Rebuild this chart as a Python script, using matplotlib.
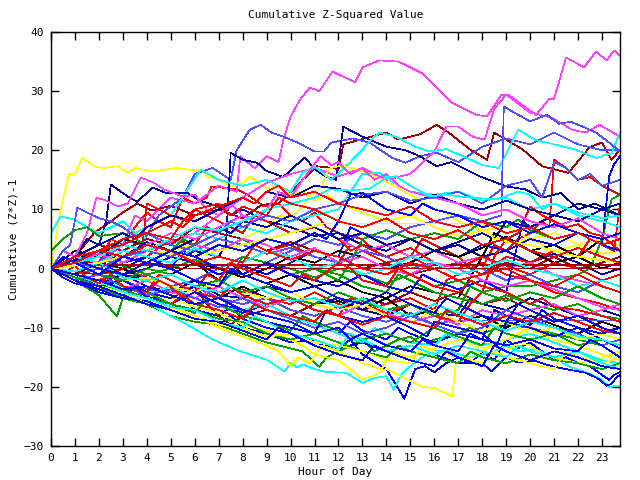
import matplotlib
matplotlib.use("Agg")
import matplotlib.pyplot as plt

# each series: (hours, cumulative value) at its corners
red = [
    ([0, 1, 2, 2.5, 3, 3.5, 4, 4.5, 5, 5.5, 6, 6.5, 6.7, 7.8, 8.3, 8.9, 9.5, 10, 10.5, 11, 11.5, 12, 13, 13.5, 14, 15, 15.5, 16, 17, 17.5, 18, 19, 20, 21, 22, 23, 23.75],
     [0, 2, 1, 5, 4, 7, 9.5, 8, 7, 12, 11, 12, 13.9, 13.4, 12.2, 10.5, 11, 9, 8, 9.5, 7, 6, 5, 3, 4, 2, 5, 4, 2, 0, 1, -1, -2, -4, -5, -6, -7]),
    ([0, 1, 2, 3, 4, 5, 6, 7, 8, 9, 10, 11, 12, 13, 14, 15, 16, 16.5, 17, 18, 18.5, 19, 19.5, 20, 20.5, 20.8, 21, 21.5, 22, 22.5, 23, 23.75],
     [0, -1, -2, 0, -1.5, -3, -2, -4, -3.5, -5, -6, -4, -6, -7, -6, -5, -7, -2, -1, 0, 4, 3, 5, 6, 8, 7, 18.4, 17, 15, 15.5, 14, 12.5]),
    ([0, 1, 2, 3, 4, 5, 6, 6.5, 7, 8, 9, 10, 11, 12, 12.5, 13, 14, 15, 16, 17, 18, 19, 20, 21, 22, 22.5, 23, 23.5, 23.75],
     [0, 1.5, 0.5, 3, 2, 5, 4, 7, 6, 5, 3, 4, 2, 1, 4, 3, 1, 2, 0, 1, -1, 2, 1, 3, 2, 5, 4, 3, 11]),
    ([0, 0.5, 1, 2, 3, 3.8, 4, 4.5, 5, 5.7, 6, 6.5, 7, 7.5, 8, 8.5, 9, 10, 11, 12, 12.5, 13, 14, 15, 16, 17, 18, 19, 20, 21, 22, 23, 23.75],
     [0, 2, 1, 3, 2, 3, 11, 10, 9, 8, 10, 9, 8, 7, 6, 9, 8, 6, 7, 5, 3, 4, 2, 3.5, 1, 0, 2, 0.5, -1, 1, 0, -2, -1]),
    ([0, 1, 2, 3, 4, 4.5, 5, 6, 7, 7.5, 8, 9, 10, 11, 12, 12.5, 13, 14, 15, 16, 17, 17.5, 18, 18.5, 19, 19.5, 20, 20.5, 21, 21.5, 22, 22.5, 23, 23.75],
     [0, -2, -1, -3, -4, -1, -2, -4, -5, -3, -4.5, -6, -5, -7, -8, -5, -6, -7.5, -6, -8, -9, -6, -4, 2, 5, 6, 10.5, 9, 8, 7, 7.5, 6, 5.5, 3]),
    ([0, 0.5, 1, 1.5, 2, 2.5, 3, 4, 4.5, 5, 5.5, 6, 6.5, 7, 7.5, 8, 9, 10, 10.5, 11, 12, 12.5, 13, 14, 14.5, 15, 16, 17, 17.5, 18, 19, 20, 20.5, 21, 22, 23, 23.75],
     [0, -1, 0.5, -1.5, -2.5, -1, -3, -4, -2, -3, -5, -4, -1, -2, 1, 0, -1.5, -3, -1, -2, 1, 0, -2, -3, 0, -1, -3, -4, -2, -3, -4, -6, -5, -6.5, -7, -8, -9]),
    ([0, 1, 2, 3, 4, 5, 5.5, 6, 7, 8, 8.5, 9, 10, 11, 11.5, 12, 13, 14, 15, 16, 16.5, 17, 18, 19, 20, 21, 22, 23, 23.75],
     [0, -1.5, -3, -4, -5, -6, -4.5, -6, -7, -8.5, -6, -7, -8, -9, -7, -8, -9.5, -8, -9, -10, -7, -8, -9.5, -8, -9, -7.5, -9, -10.5, -11]),
    ([0, 1, 2, 3, 4, 5, 6, 7, 8, 8.5, 9, 10, 11, 12, 13, 14, 15, 16, 17, 18, 19, 20, 21, 22, 23, 23.75],
     [0, 1, 3, 2, 4, 3, 1, 2, 1, 4, 3, 1.5, 3, 2, 0, -1, 1, 0, -2, -1, 0, -2, -3, -1, -3, -4]),
    ([0, 1, 2, 3, 4, 5, 5.5, 6, 7, 7.5, 8, 9, 9.5, 10, 11, 12, 13, 14, 15, 16, 17, 18, 19, 20, 21, 22, 23, 23.75],
     [0, 2, 3, 5, 6, 5, 8, 10, 11, 9, 10.5, 9, 12, 11, 10, 8, 7, 8.5, 6, 5, 6.5, 4, 5, 3, 2, 3.5, 2, 1]),
    ([0, 1, 2, 3, 4, 5, 5.5, 6, 7, 8, 8.5, 9, 9.5, 10, 11, 12, 13, 14, 15, 16, 17, 18, 19, 20, 21, 22, 23, 23.75],
     [0, 1, 3, 4, 6, 8, 7, 9, 10.5, 12, 11, 13, 14, 12, 13, 11, 10, 9, 10.5, 8, 7, 8, 6, 7, 5, 6, 4, 5]),
]

green = [
    ([0, 1, 2, 2.75, 3, 4, 5, 6, 7, 8, 9, 10, 10.5, 11.2, 11.5, 12, 12.5, 13, 13.5, 14, 14.5, 15, 15.5, 16, 17, 17.5, 18, 19, 20, 21, 22, 23, 23.75],
     [0, -2, -4.5, -8.1, -5, -6, -8, -9, -9.5, -11, -12.5, -13.5, -14, -16.6, -15, -14, -13, -12, -14, -13, -12, -11.5, -13, -12, -11, -10, -11, -9.5, -10, -11, -12, -13, -12]),
    ([0, 1, 2, 3, 4, 5, 6, 7, 8, 9, 10, 11, 12, 13, 14, 15, 16, 17, 18, 19, 20, 21, 22, 22.5, 23, 23.4, 23.75],
     [0, 1, 0, 2, 1, 0, 1.5, 0, -1, 1, 0, -1.5, 0, -1, -2.5, -1, -3, -2, -4, -3, -3, -2, -1, 0, 5, 11.7, 12.5]),
    ([0, 1, 2, 2.5, 3, 4, 5, 6, 7, 7.5, 8, 9, 10, 11, 12, 12.5, 13, 14, 15, 16, 17, 18, 19, 19.5, 20, 21, 22, 23, 23.75],
     [0, 2, 3, 1, 0.5, -1, 0, -2, -3, -1, 2, 1, -1, 0, -2, 1, 5, 6.5, 5, 6, 5, 8, 7, 8.3, 6.5, 5, 6, 4, 3]),
    ([0, 0.5, 1, 1.5, 2, 3, 4, 5, 5.5, 6, 7, 8, 9, 10, 11, 12, 13, 14, 14.5, 15, 16, 17, 18, 19, 20, 21, 22, 23, 23.75],
     [3, 5, 6.5, 7, 5.5, 6, 4, 3, 5, 4, 3, 5, 3, 2, 0, -1, -3, -4, -1, -2, -4, -5, -6, -4.5, -6, -7, -6, -8, -8.5]),
    ([0, 1, 2, 3, 4, 5, 6, 6.5, 7, 8, 9, 10, 10.5, 11, 12, 13, 14, 15, 16, 17, 18, 18.5, 19, 20, 21, 22, 23, 23.75],
     [0, -2, -3, -5, -4, -6, -7.5, -5, -6, -8, -9, -10.5, -8, -9, -10.5, -12, -11, -12.5, -10, -11.5, -13, -10, -11, -12, -11, -13, -12, -13]),
    ([0, 1, 2, 3, 4, 5, 6, 7, 8, 9, 10, 11, 12, 13, 14, 15, 16, 17, 17.5, 18, 19, 20, 21, 22, 23, 23.75],
     [0, 1, -1, -2, 0, -1, -3, -2, -4, -3, -5, -6, -4, -5.5, -7, -6, -8, -7, -3, -4, -5.5, -4, -5, -3, -5, -6]),
    ([0, 1, 2, 3, 4, 5, 6, 7, 8, 9, 10, 11, 12, 13, 14, 14.5, 15, 16, 17, 17.5, 18, 19, 20, 21, 22, 23, 23.75],
     [0, -1.5, -3, -3.5, -5, -6, -7, -8.5, -9, -11, -12, -11, -12.5, -14, -15, -13, -14, -15, -16, -14, -15, -16, -14.5, -15.5, -16, -17, -16]),
]

blue = [
    ([0, 0.5, 1, 2, 3, 3.5, 4, 5, 5.5, 6, 7, 7.5, 8, 9, 10, 11, 12, 12.5, 13, 14, 14.75, 15.2, 15.6, 16, 16.5, 17, 17.5, 18, 18.5, 19, 19.5, 20, 20.5, 21, 21.5, 22, 22.5, 23, 23.3, 23.5, 23.75],
     [0, -1.5, -2.5, -3.5, -4.5, -3, -4.5, -6, -5, -7, -8, -6.5, -8.5, -10, -11, -12.5, -13.5, -12, -14.5, -17, -22, -17, -16.5, -17.5, -16, -15, -16, -14, -15.5, -12, -13.5, -12.5, -14, -15.5, -15, -16, -16.5, -18, -18.8, -18, -17.5]),
    ([0, 1, 2, 3, 4, 5, 6, 7, 7.5, 8, 9, 10, 11, 12, 13, 14, 15, 16, 17, 18, 18.4, 19, 19.5, 20.2, 20.9, 21.5, 22.3, 22.8, 23.2, 23.4, 23.6, 23.75],
     [0, -2, -3.5, -5, -5.5, -7, -8, -9.5, -8, -10, -11, -12.5, -12, -13.5, -12.5, -14, -13, -14.5, -16, -16, -17.4, -15, -15.9, -15.6, -16.5, -17, -17.6, -18.5, -19.8, -19.5, -18.4, -18]),
    ([0, 1, 2, 3, 4, 5, 6, 7, 8, 9, 10, 11, 12, 12.5, 13, 14, 15, 16, 17, 18, 19, 20, 21, 22, 22.5, 23, 23.3, 23.5, 23.75],
     [0, 2, 1, -1, 0, 2, 1, -1, 0.5, -1, 1, 3, 2, 7, 6, 4, 5, 3, 2, 4, 3, 5, 4, 6, 5, 4, 15.6, 17.6, 19]),
    ([0, 1, 2, 3, 4, 5, 6, 6.5, 7, 8, 9, 10, 11, 12, 12.5, 13, 14, 14.5, 15, 16, 17, 18, 18.5, 19, 20, 20.5, 21, 22, 23, 23.75],
     [0, -1, -3, -2, -4, -5, -3, -5, -6, -7.5, -6, -8, -9.5, -11, -9, -10.5, -12, -10, -11, -12.5, -11, -12, -7, -8, -9.5, -7, -8.5, -10, -12, -13.5]),
    ([0, 0.5, 1, 2, 3, 4, 5, 5.5, 6, 7, 8, 9, 10, 11, 12, 13, 14, 15, 15.5, 16, 17, 18, 19, 19.7, 20, 21, 22, 23, 23.75],
     [0, 2, 1, 3, 1, 2, 0, 3, 2, 0, -1, 1, -1, -2, -3, -1, -3, -4, -1, -2, -3.5, -2, -4, 8, 7, 5, 6, 4, 3]),
    ([0, 1, 2, 3, 3.5, 4, 5, 6, 7, 8, 9, 10, 11, 11.5, 12, 13, 14, 15, 15.7, 16, 17, 18, 18.6, 19, 20, 21, 22, 23, 23.75],
     [0, -2, -4, -5, -3, -5, -6, -4, -6, -7, -9, -10, -11, -7, -8, -9, -8, -10, -11.5, -9, -10, -11, -13, -9, -10, -11.5, -10, -11, -10]),
    ([0, 1, 2, 3, 4, 5, 6, 7, 7.5, 8, 9, 10, 11, 12, 13, 14, 15, 16, 16.5, 17, 18, 19, 19.5, 20, 21, 22, 23, 23.75],
     [0, 1.5, 0, -1, 1, 0, -2, -3, 0, -1, -2.5, -4, -3, -5, -6, -4, -6, -7.5, -5, -6, -8, -9, -6, -7, -9, -8, -10, -11]),
    ([0, 1, 2, 3, 4, 5, 6, 7, 8, 9, 10, 11, 11.5, 12, 12.5, 13, 14, 15, 15.5, 16, 17, 18, 19, 20, 21, 22, 23, 23.75],
     [0, 1, -1, 2, 1, 3, 2, 4, 3, 5, 4, 6, 5, 8, 12.5, 12.8, 10, 9, 11, 10, 9, 7, 8, 6, 7.5, 6, 5, 6]),
    ([0, 1, 2, 3, 4, 5, 6, 7, 8, 9, 10, 11, 12, 12.5, 13, 14, 15, 15.5, 16, 17, 17.5, 18, 19, 20, 21, 22, 22.5, 23, 23.75],
     [0, -1, -2, -3.5, -3, -4.5, -6, -5, -7, -8, -9, -11, -10, -12, -11, -13, -14, -12, -13, -14, -11, -12, -13, -12, -13.5, -14, -12, -13, -15]),
    ([0, 1, 2, 3, 4, 5, 6, 7, 8, 9, 9.5, 10, 11, 12, 13, 13.5, 14, 15, 16, 16.5, 17, 18, 18.5, 19, 20, 21, 22, 23, 23.75],
     [0, -2, -3, -4.5, -6, -7, -8.5, -9, -10.5, -12, -10, -11, -13, -14.5, -15.5, -13, -14, -15.5, -16.5, -14, -15, -16.5, -13, -14, -15.5, -14, -15, -16.5, -17]),
]

magenta = [
    ([0, 1, 2, 3, 3.5, 4, 5, 6, 7, 7.75, 7.9, 8.5, 9, 9.5, 9.7, 10, 10.4, 10.8, 11.2, 11.75, 12.7, 13, 13.7, 14.5, 15, 15.5, 16.1, 16.75, 17.75, 18.2, 18.8, 19.1, 19.75, 20.25, 20.8, 21, 21.5, 22.25, 22.75, 23.2, 23.5, 23.75],
     [0, 2, 1, 4, 9, 8, 12, 11, 14, 13, 19, 17, 19, 18, 21.8, 25.7, 28.6, 30.6, 30, 33.3, 31.5, 34, 35.2, 35, 34, 33, 30.6, 28, 26, 25.7, 29.4, 29.4, 27.4, 26, 28.7, 28.7, 35.7, 34, 36.7, 35.2, 36.9, 36]),
    ([0, 2, 4, 6, 8, 9, 10, 11, 12, 13, 14, 15, 16, 16.5, 17, 17.6, 18.1, 18.5, 19, 20, 20.9, 21.75, 22.3, 22.9, 23.75],
     [0, -1, 3, 6, 12, 14.5, 16, 17, 15.6, 17, 15, 16, 19.8, 24, 24, 22.3, 21.8, 27, 29.4, 26.4, 25.5, 23.5, 23, 24.3, 22.3]),
    ([0, 0.5, 1, 1.5, 1.9, 2.3, 2.8, 3.2, 3.75, 4.3, 4.7, 5.5, 6, 6.5, 7, 7.5, 8, 9, 10, 11, 12, 13, 14, 15, 16, 17, 18, 19, 20, 21, 22, 23, 23.75],
     [0, 3, 2, 6, 12, 11.5, 10.5, 11, 15.4, 14.5, 13.4, 12.2, 12.5, 10, 9, 11, 9, 8, 6, 7, 5, 3, 4, 2, 3, 1, 2, 0, 1, -1, -2, -3, -4]),
    ([0, 1, 2, 3, 4, 5, 6, 7, 8, 9, 10, 11, 12, 13, 14, 15, 16, 17, 18, 19, 20, 21, 22, 23, 23.75],
     [0, -1.5, -2, -3.5, -2, -4, -5, -3, -5, -6.5, -5, -7, -8, -6, -7.5, -9, -8, -9.5, -7, -8, -7, -6, -8, -7, -6]),
    ([0, 1, 2, 3, 4, 5, 6, 7, 8, 9, 10, 11, 12, 13, 14, 15, 16, 17, 18, 19, 20, 21, 22, 23, 23.75],
     [0, 1, 2.5, 1, 3, 2, 4, 3, 5, 4, 2, 3.5, 1, 2, 0, -1, 1, 0, -2, -3, -2, -3.5, -5, -6.5, -7]),
    ([0, 1, 2, 3, 4, 5, 6, 7, 8, 8.5, 9, 9.5, 10, 10.5, 11.25, 11.7, 12, 12.5, 13, 13.5, 14, 14.5, 15, 16, 17, 18, 19, 20, 21, 22, 23, 23.75],
     [0, 1, 3, 2, 4, 6, 5, 7, 9, 8, 10, 13, 12, 15, 19, 17.5, 18, 16, 17, 15, 16, 14, 13, 12, 11, 9, 10, 8, 7, 8.5, 6, 5]),
]

cyan = [
    ([0, 1, 2, 3, 4, 4.7, 5.7, 6.75, 7.9, 9, 9.75, 10, 10.25, 10.5, 11, 11.5, 12.3, 13, 13.5, 14, 14.3, 14.6, 15, 15.5, 16, 16.5, 17, 17.5, 18, 18.5, 19, 19.5, 20.25, 21, 21.6, 22.3, 23, 23.3, 23.75],
     [0, -1.5, -3, -4.5, -5.5, -7.4, -9.5, -12, -14, -15.4, -17.4, -15.9, -16.7, -16.2, -17, -17.5, -17.6, -19.3, -18.5, -18.2, -20.5, -18, -16.5, -15, -14, -13.8, -14.5, -15, -14.5, -14, -13, -14, -13.7, -15, -16.5, -17.5, -18.8, -20, -19.8]),
    ([0, 1, 2, 3, 4, 5, 5.8, 6.25, 7, 8, 9, 10, 10.5, 11, 11.7, 12.5, 13.3, 13.7, 14.4, 15.2, 15.8, 16.5, 17.2, 18, 18.7, 19.5, 20.2, 21, 21.9, 22.75, 23.4, 23.75],
     [0, 2, 3, 5, 7, 9, 13.9, 16.7, 15, 14, 15, 13, 16.2, 17.3, 15, 18, 21.5, 23, 22.3, 20.6, 19.8, 20.2, 19, 17.5, 17, 23.5, 21.8, 21, 20.1, 18.7, 19.5, 23]),
    ([0, 0.4, 1, 1.5, 2, 3, 3.5, 4, 5, 6, 7, 8, 9, 10, 11, 12, 12.5, 13, 13.7, 14.5, 15, 16, 17, 18, 19, 20, 21, 22, 23, 23.75],
     [6, 8.8, 8.3, 7, 6, 8, 6, 5, 4, 6, 5, 7, 6, 8, 9, 10, 13, 16, 16.2, 14, 13, 12.5, 13, 11.5, 12, 10, 11, 9, 8, 7]),
    ([0, 1, 2, 3, 4, 5, 6, 7, 8, 9, 10, 11, 12, 13, 13.5, 14, 15, 16, 16.5, 17, 18, 19, 20, 21, 22, 23, 23.75],
     [0, -1, -2.5, -3, -4.5, -3, -5, -6.5, -7, -6, -8, -9.5, -11, -12.5, -10, -11, -12.5, -13, -11, -12, -13, -12, -11, -12.5, -14, -15.5, -16]),
    ([0, 1, 2, 3, 4, 5, 6, 7, 8, 9, 10, 11, 12, 13, 14, 15, 16, 17, 18, 19, 20, 21, 22, 23, 23.75],
     [0, 2, 1, 3, 2, 1, 3.5, 2, 1, 3, 2, 0, 1, -1, 0, 2, 1, -1, 0, 1.5, 0, -1, -3, -2, -3]),
    ([0, 1, 2, 3, 4, 5, 6, 7, 8, 9, 10, 11, 12, 13, 14, 15, 16, 17, 18, 19, 20, 21, 22, 23, 23.75],
     [0, -0.5, 1, -1.5, -2, -1, -3, -4, -2, -4, -5.5, -5, -6.5, -5, -7, -8, -6, -7.5, -9, -10.5, -9, -10, -11.5, -12, -13]),
    ([0, 1, 2, 3, 4, 5, 6, 7, 8, 9, 10, 11, 11.6, 12.5, 13.3, 14, 14.4, 15, 15.8, 16.5, 17.5, 18.6, 19.5, 20, 20.5, 21, 22, 23, 23.75],
     [0, 1, 2, 4, 3, 5, 7, 6.5, 8, 10, 11, 12, 13.4, 13.2, 13.5, 15.4, 15.6, 14, 12.2, 12.5, 12, 11.7, 13, 12.5, 10, 11, 9.5, 8.5, 9]),
    ([0, 1, 2, 3, 4, 5, 6, 7, 8, 8.5, 9, 10, 11, 12, 12.5, 13, 14, 15, 16, 17, 18, 19, 19.5, 20, 21, 22, 23, 23.75],
     [0, -1, -2, -4, -5, -6.5, -7, -9, -10, -8, -9, -11, -12, -13.5, -11, -12, -14, -13, -14.5, -13, -14, -15, -13, -14, -15, -14, -16, -17]),
]

darkred = [
    ([0, 1, 1.8, 2.5, 3, 3.6, 4.2, 5, 6, 7, 8, 8.8, 9.5, 10, 10.5, 11.1, 11.8, 12, 12.2, 12.9, 14, 14.5, 15.4, 16.1, 16.6, 17.5, 18.2, 18.5, 19, 19.7, 20.5, 21.6, 22.5, 23, 23.4, 23.75],
     [0, 2, 6, 8, 9.5, 11, 9.8, 10.6, 9, 10, 8.5, 10.8, 11, 12.8, 15, 17.3, 17, 16.7, 21, 21.8, 23, 21.8, 22.7, 24.3, 23, 20.1, 18.4, 23, 21.8, 20.1, 17.3, 16.2, 20.6, 21.3, 18.4, 20.1]),
    ([0, 1, 2, 3, 4, 5, 6, 6.5, 7, 7.5, 8, 9, 10, 11, 12, 13, 14, 15, 16, 17, 18, 19, 20, 21, 22, 23, 23.75],
     [0, 1, 0, -1, -2, -1, -3, -6, -8, -9.5, -8, -7, -8, -6, -7, -5, -6, -4, -5.5, -4, -6, -5, -7, -6, -8, -9, -10]),
    ([0, 1, 2, 3, 4, 5, 6, 7, 8, 9, 10, 11, 12, 13, 14, 15, 16, 17, 18, 19, 20, 21, 22, 23, 23.75],
     [0, 2, 4, 3, 5, 4, 7, 6, 5, 3, 4.5, 3, 2, 0, 1, -1, 0, -2, -1, 1, 0, 2, 0, 1, 2]),
    ([0, 1, 2.2, 23.75],
     [0, 1.5, 0.6, 0.6]),
    ([0, 2, 4, 5.4, 23.75],
     [0, -1, 1, 0, 0]),
]

yellow = [
    ([0, 0.4, 0.75, 1, 1.3, 1.8, 2.2, 2.8, 3.2, 3.5, 4.3, 4.7, 5.2, 5.8, 6.25, 6.5, 7, 7.5, 8, 8.3, 9, 9.5, 10, 10.5, 11, 11.5, 12, 13, 14, 15, 16, 17, 18, 19, 20, 21, 22, 23, 23.75],
     [0, 10, 16, 16, 18.7, 17.3, 17, 17.3, 16.2, 17, 16.4, 16.7, 17, 16.7, 16.7, 15.6, 15, 13.9, 14.5, 15.6, 13.5, 14, 12.5, 13, 11.5, 12.5, 11, 9.5, 8, 9, 7, 5.5, 6.5, 4.5, 5, 3, 4, 2.5, 3]),
    ([0, 1, 2, 3, 4, 5, 6, 7, 8, 9, 9.5, 10, 10.5, 10.8, 11.3, 11.6, 12, 12.6, 13.3, 14, 15.1, 15.8, 16.5, 17, 18, 19, 20, 21, 22, 23, 23.75],
     [0, -1, 1, 2, 1, 3, 4, 6, 5, 7, 9, 8.5, 10.5, 12.2, 14, 16.9, 17.3, 17, 16, 14.7, 12.2, 10.5, 9.5, 8, 6.5, 7, 5, 6, 4, 5, 4]),
    ([0, 1, 2, 3, 4, 5, 6, 7, 8, 9, 10, 10.5, 11, 12, 12.5, 13, 13.5, 14, 14.5, 15, 15.5, 16, 16.75, 16.9, 17.5, 18, 18.5, 19, 19.5, 20, 20.5, 21, 22, 23, 23.75],
     [0, -1, -2.5, -3, -4.5, -5, -6.5, -7.5, -9.5, -10.5, -12, -13, -14.5, -15.5, -17, -18.8, -18, -17, -18, -19, -20, -20.2, -21.6, -16, -15, -14, -13, -14, -12.5, -13, -14.5, -15, -16, -15, -14]),
    ([0, 2, 4, 6, 7, 8, 9, 9.5, 10, 10.3, 10.8, 11.3, 12, 13, 13.8, 14.2, 15, 16, 17, 18, 19, 20, 21, 22, 23, 23.75],
     [0, -2, -5, -8, -10, -11.5, -13, -14, -16.5, -15, -16, -13, -14, -16, -17, -14, -15, -13.5, -12, -13.5, -12, -10, -12, -13, -14.5, -15.5]),
    ([0, 1, 2, 3, 4, 5, 6, 7, 8, 9, 10, 11, 12, 13, 14, 15, 16, 17, 18, 19, 20, 21, 22, 23, 23.75],
     [0, 1, -1, -2, -1.5, -3, -4, -2, -4, -5, -4, -6, -7, -6, -8, -9, -7, -9, -10.5, -9, -11, -10, -12, -11, -12]),
    ([0, 2, 4, 6, 8, 10, 11.3, 18, 18.5, 20, 22, 23.75],
     [0, 1, 3, 2, 4, 6, 7.6, 7.6, 5, 4, 2, 1]),
    ([0, 1, 2, 3, 4, 5, 6, 7, 8, 9, 10, 11, 12, 13, 14, 15, 15.5, 16, 17, 18, 18.5, 19, 20, 21, 21.5, 22, 23, 23.75],
     [0, -2, -3, -4, -6, -7, -8, -9.5, -10, -11.5, -11, -12.5, -13, -14, -15.5, -16, -13, -14, -15, -16, -14, -15, -16, -17, -14, -15, -16, -15]),
]

slate = [
    ([0, 1, 2, 3, 3.75, 4.5, 5.5, 6, 6.75, 7.5, 7.75, 8.3, 8.75, 9.2, 9.7, 10.3, 11, 11.4, 11.7, 12.6, 13.3, 14.25, 14.8, 15.4, 16.1, 17, 18, 19, 20, 21, 22, 23, 23.75],
     [0, -1, 1, 5, 4, 9, 12, 16, 17, 15, 20, 23.5, 24.3, 23, 22.3, 21.3, 19.8, 19.8, 21.3, 22, 21.3, 18.7, 17.9, 19, 19.6, 18, 20.6, 22, 21, 23, 21, 20, 20]),
    ([0, 1, 2, 3, 4, 5, 6, 7, 8, 9, 10, 11, 12, 13, 14, 15, 16, 17, 18, 18.8, 18.9, 19.5, 20, 20.7, 21.2, 21.7, 22.2, 22.75, 23.3, 23.75],
     [0, -1, 0, -2, -1, -3, -2, 0, 2, 1, 3, 5, 4, 6, 5, 7, 8, 9, 8, 9, 27.4, 26, 24.9, 26, 24.5, 24.8, 24, 23, 21.3, 19.8]),
    ([0, 1, 2, 3, 4, 5, 6, 7, 8, 9, 10, 11, 12, 13, 14, 15, 16, 16.75, 23.75],
     [0, -1, -2.5, -2, -3.5, -4, -3, -5, -6, -5, -7, -8, -6.5, -8, -9, -7.5, -9.5, -8.8, -8.8]),
    ([0, 0.5, 0.8, 1.1, 1.5, 2, 2.5, 3, 3.5, 4, 5, 6, 7, 8, 9, 10, 11, 12, 13, 14, 15, 16, 17, 18, 19, 20, 21, 22, 23, 23.75],
     [0, 3, 4, 10.3, 9.5, 8.5, 8, 7, 5.5, 6, 4, 3, 5, 4, 2.5, 3.5, 2, 1, 3, 2, 0, 1, -1, 0, -2, -1, -3, -4, -2, -3]),
    ([0, 1, 2, 3, 4, 5, 6, 7, 8, 9, 10, 11, 12, 13, 14, 15, 16, 17, 18, 19, 20, 21, 22, 23, 23.75],
     [0, -2, -1, -3, -4.5, -3.5, -5, -6.5, -5, -7, -8.5, -10, -9, -11, -10, -8, -9.5, -11, -10, -7, -8.5, -10, -11, -13, -12]),
    ([0, 1, 2, 3, 4, 5, 6, 7, 7.5, 8, 9, 10, 11, 12, 13, 14, 15, 16, 17, 18, 19, 20, 20.5, 21, 21.5, 22, 22.5, 23, 23.75],
     [0, 1, 0, 2, 3, 2, 4, 6, 8, 7, 9, 8, 10, 11, 12.5, 13, 11.5, 12, 13, 11, 14, 15, 12, 18, 17, 15, 16, 14, 15]),
]

navy = [
    ([0, 1, 2, 3, 4, 5, 6, 7, 7.3, 7.5, 8, 8.6, 9, 9.7, 10.1, 10.6, 11, 11.5, 11.9, 12.2, 13, 14, 14.8, 15.4, 16.1, 16.7, 17.9, 19, 19.8, 20.5, 21.3, 22, 22.7, 23.75],
     [0, 1, -1, 0, 2, 1, 3, 2, 4, 19.6, 18.4, 17.9, 16.5, 15.5, 17, 18.8, 16.8, 15.5, 15, 24, 22.3, 20.6, 20, 19, 17.3, 18, 15.6, 13.9, 13.4, 12, 12.8, 10, 11, 9]),
    ([0, 1, 1.5, 2, 2.3, 2.5, 3.2, 3.6, 4, 4.25, 4.8, 5.7, 6.2, 7, 7.5, 8, 9, 10, 11, 12, 13, 14, 15, 16, 17, 18, 19, 20, 21, 22, 23, 23.75],
     [0, 2, 5, 4, 8, 14.2, 12.2, 11.3, 12.8, 13.7, 12.8, 12.8, 11.5, 10.5, 9, 10, 8, 7, 5.5, 6, 4, 3, 5, 3, 4, 2, 3, 1, 2.5, 1, -1, 0]),
    ([0, 1, 2, 3, 4, 5, 6, 7, 8, 9, 10, 11, 12, 13, 14, 15, 16, 17, 17.5, 18, 19, 20, 21, 22, 23, 23.75],
     [0, -1, -2.5, -1, -3, -4, -2, -4.5, -5, -3, -4, -6, -5, -7, -8, -6, -7.5, -8, -5, -6, -7, -5, -6.5, -8, -7, -8]),
    ([0, 1, 2, 3, 4, 5, 6, 7, 7.5, 8, 9, 10, 10.5, 11, 12, 13, 14, 15, 16, 17, 18, 18.5, 19, 20, 21, 22, 23, 23.75],
     [0, 1.5, 3, 2, 4.5, 3, 5, 7, 6, 8, 7, 9, 8, 7, 5, 6, 4, 5, 3, 4.5, 6, 5, 8, 7, 9, 8, 10, 9]),
    ([0, 1, 2, 3, 3.5, 4, 5, 6, 7, 8, 8.5, 9, 10, 11, 12, 13, 14, 15, 16, 17, 18, 19, 20, 21, 22, 23, 23.75],
     [0, 2, 4, 6, 5, 7, 9, 8, 10, 12, 11, 13, 12, 14, 13.5, 12, 13, 11, 12.5, 11, 10, 11.5, 10, 9, 11, 10, 11]),
]

black = [
    ([0, 1, 2, 3, 4, 5, 6, 7, 7.5, 8, 9, 10, 11, 12, 13, 14, 15, 16, 17, 18, 18.5, 19, 20, 21, 22, 23, 23.75],
     [0, 3, 2, 5, 4, 3, 1, -2, 1, -1, -2.5, -1, -3, -2, -4, -5, -3, -4, -5, 2, 6, 5, 3, 4, 2, 5, 4]),
    ([0, 1, 2, 3, 4, 5, 6, 7, 8, 9, 10, 11, 12, 13, 14, 15, 16, 17, 18, 19, 20, 21, 22, 23, 23.75],
     [0, -1, 1, -1, -2, -1, -3, -5, -3, -5, -4, -6, -5.5, -7, -5, -8, -7, -9, -8, -10, -8, -9.5, -11, -9, -10]),
    ([0, 1, 2, 3, 4, 5, 6, 7, 8, 9, 10, 11, 12, 13, 14, 15, 16, 17, 18, 19, 20, 21, 22, 23, 23.75],
     [0, -1, 1, 0, -2, -1, 1, 0, -1.5, 0, 2, 1, 3, 2, 0, 1, 3, 2, 3.5, 5.4, 3, 1, 2, 0, 1]),
]

groups = [
    (red, "#ff0000"), (green, "#00a000"), (blue, "#0000ff"), (magenta, "#ff40ff"),
    (cyan, "#00ffff"), (darkred, "#a00000"), (yellow, "#ffff00"), (slate, "#5050ff"),
    (navy, "#0000a0"), (black, "#000000"),
]

plt.rcParams['font.family'] = ['DejaVu Sans Mono']
fig = plt.figure(figsize=(6.4, 4.8), dpi=100)
ax = fig.add_axes([0.0797, 0.0708, 0.889, 0.8625])

# interleave colours like gnuplot cycles its line types
longest = max(len(g) for g, _ in groups)
for i in range(longest):
    for series, col in groups:
        if i < len(series):
            hrs, vals = series[i]
            ax.plot(hrs, vals, color=col, lw=0.5, antialiased=False)

ax.set_xlim(0, 23.75)
ax.set_ylim(-30, 40)
ax.set_xticks(range(0, 24))
ax.set_yticks(range(-30, 41, 10))
ax.tick_params(direction="in", length=6, width=1, top=True, right=True,
               labelsize=8, pad=5)
for s in ax.spines.values():
    s.set_linewidth(1)
ax.set_title("Cumulative Z-Squared Value", fontsize=8, pad=10)
ax.set_xlabel("Hour of Day", fontsize=8, labelpad=3)
ax.set_ylabel("Cumulative (Z*Z)-1", fontsize=8, labelpad=4)

fig.savefig("out.png", dpi=100)
